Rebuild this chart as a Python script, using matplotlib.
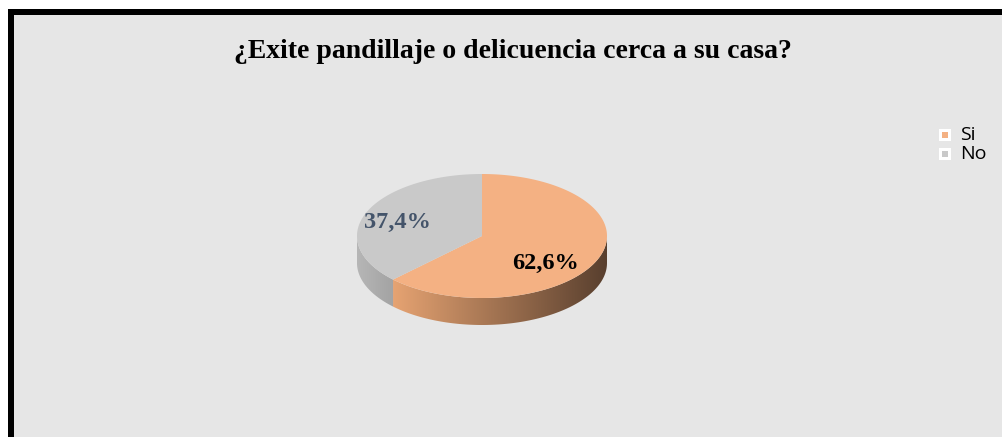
import numpy as np
import matplotlib.pyplot as plt
from matplotlib.patches import Polygon, Rectangle
from matplotlib.colors import LinearSegmentedColormap

title = "¿Exite pandillaje o delicuencia cerca a su casa?"
categories = ["Si", "No"]
shares = [62.6, 37.4]
value_labels = ["62,6%", "37,4%"]

top_colors = ["#f4b183", "#c9c9c9"]
side_colors = [("#e6a372", "#583f2e"), ("#b6b6b6", "#a3a3a3")]
label_colors = ["#000000", "#44546a"]

W, H = 1003, 437
fig = plt.figure(figsize=(W / 100, H / 100), dpi=100)
fig.patch.set_facecolor("white")
ax = fig.add_axes([0, 0, 1, 1])
ax.axis("off")

# black frame on the left and top, grey chart area inside
ax.add_patch(Rectangle((8, 9), W, H, facecolor="black", zorder=0))
ax.add_patch(Rectangle((14, 15), W, H, facecolor="#e6e6e6", zorder=0.5))

# tilted pie geometry (pixels)
cx, cy, a, b, depth = 482, 236, 125, 62, 27


def rim(t0, t1, n=200):
    t = np.radians(np.linspace(t0, t1, n))
    return cx + a * np.sin(t), cy - b * np.cos(t)


# side walls, only the front half is visible
start = 0
for share, (c0, c1) in zip(shares, side_colors):
    end = start + share * 3.6
    lo, hi = max(start, 90), min(end, 270)
    if hi > lo:
        x, y = rim(lo, hi)
        verts = np.column_stack([np.r_[x, x[::-1]], np.r_[y, y[::-1] + depth]])
        wall = Polygon(verts, closed=True, facecolor="none", edgecolor="none")
        ax.add_patch(wall)
        cmap = LinearSegmentedColormap.from_list("wall", [c0, c1])
        grad = np.linspace(0, 1, 256)[None, :]
        im = ax.imshow(grad, cmap=cmap, aspect="auto", zorder=2,
                       extent=(x.min(), x.max(), y.max() + depth, y.min()))
        im.set_clip_path(wall)
    start = end

# top faces and value labels
label_frac = [0.55, 0.73]
label_dy = [14, 4]
start = 0
for i, share in enumerate(shares):
    end = start + share * 3.6
    x, y = rim(start, end)
    verts = np.column_stack([np.r_[cx, x], np.r_[cy, y]])
    ax.add_patch(Polygon(verts, closed=True, facecolor=top_colors[i],
                         edgecolor="none", zorder=3))
    mid = np.radians((start + end) / 2)
    lx = cx + a * label_frac[i] * np.sin(mid)
    ly = cy - b * label_frac[i] * np.cos(mid) + label_dy[i]
    ax.text(lx, ly, value_labels[i], ha="center", va="center", fontsize=17.5,
            fontweight="bold", family="Liberation Serif", color=label_colors[i],
            zorder=4)
    start = end

ax.text(513, 52, title, ha="center", va="center", fontsize=20,
        fontweight="bold", family="Liberation Serif", color="black")

# legend
for i, name in enumerate(categories):
    ly = 135 + i * 19
    ax.scatter([945], [ly], marker="s", s=70, color="white", zorder=5,
               linewidths=0)
    ax.scatter([945], [ly], marker="s", s=20, color=top_colors[i], zorder=6,
               linewidths=0)
    ax.text(960, ly, name, ha="left", va="center", fontsize=14,
            family="Open Sans", color="black")

ax.set_xlim(0, W)
ax.set_ylim(H, 0)
fig.savefig("out.png", dpi=100)
